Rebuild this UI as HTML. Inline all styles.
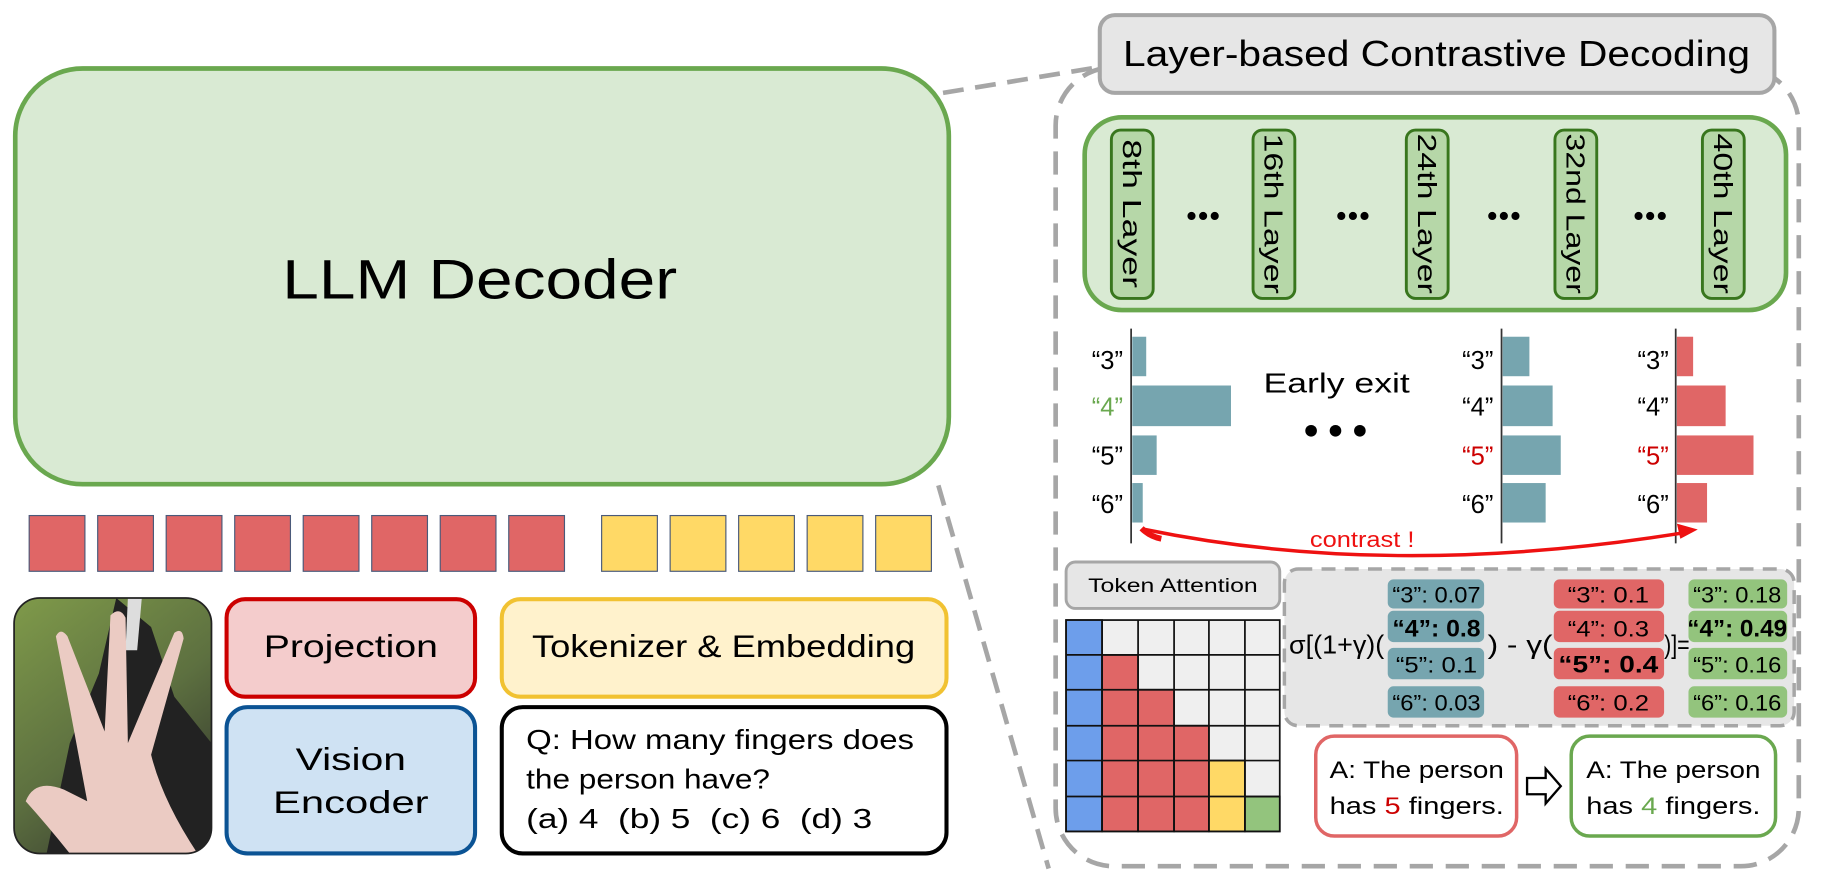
<!DOCTYPE html>
<html><head><meta charset="utf-8"><style>
html,body{margin:0;padding:0;background:#fff;width:1821px;height:879px;overflow:hidden}
svg text{font-family:"Liberation Sans",sans-serif}
</style></head><body>
<svg width="1821" height="879" viewBox="0 0 1568 757" xmlns="http://www.w3.org/2000/svg">
<defs>
<linearGradient id="ph" x1="0" y1="0" x2="0.6" y2="1">
<stop offset="0" stop-color="#7f9a4a"/><stop offset="0.6" stop-color="#5d7040"/><stop offset="1" stop-color="#3a4030"/>
</linearGradient>
<clipPath id="pc"><rect x="12" y="515" width="170" height="220" rx="22"/></clipPath>
</defs>
<rect x="13" y="59" width="804" height="358" rx="58" fill="#d9ead3" stroke="#6aa84f" stroke-width="4"/>
<text x="413" y="257" font-size="48" text-anchor="middle" textLength="340" lengthAdjust="spacingAndGlyphs">LLM Decoder</text>
<line x1="812" y1="80" x2="945" y2="58" stroke="#a6a6a6" stroke-width="4" stroke-dasharray="18,10"/>
<line x1="808" y1="418" x2="903" y2="748" stroke="#a6a6a6" stroke-width="4" stroke-dasharray="18,10"/>
<g fill="#e06666" stroke="#4a5a7a" stroke-width="1">
<rect x="25" y="444" width="48" height="48"/><rect x="84" y="444" width="48" height="48"/><rect x="143" y="444" width="48" height="48"/><rect x="202" y="444" width="48" height="48"/><rect x="261" y="444" width="48" height="48"/><rect x="320" y="444" width="48" height="48"/><rect x="379" y="444" width="48" height="48"/><rect x="438" y="444" width="48" height="48"/>
</g>
<g fill="#ffd966" stroke="#4a5a7a" stroke-width="1">
<rect x="518" y="444" width="48" height="48"/><rect x="577" y="444" width="48" height="48"/><rect x="636" y="444" width="48" height="48"/><rect x="695" y="444" width="48" height="48"/><rect x="754" y="444" width="48" height="48"/>
</g>
<g clip-path="url(#pc)">
<rect x="12" y="515" width="170" height="220" fill="url(#ph)"/>
<path d="M100 515 L130 540 L150 600 L182 640 L182 735 L40 735 L60 640 L85 580 Z" fill="#222"/>
<path d="M110 515 L122 515 L118 560 L108 560 Z" fill="#ddd"/>
<path d="M22 690 Q30 670 55 680 L75 690 L60 610 L48 548 Q52 540 58 548 L90 630 L95 530 Q103 522 108 532 L110 640 L150 545 Q157 540 158 550 L130 650 Q140 690 170 735 L60 735 Q40 710 22 690 Z" fill="#ebcbc3"/>
</g>
<rect x="12" y="515" width="170" height="220" rx="22" fill="none" stroke="#222" stroke-width="1.5"/>
<rect x="195" y="516" width="214" height="84" rx="16" fill="#f4cccc" stroke="#cc0000" stroke-width="3.5"/>
<text x="302" y="566" font-size="27" text-anchor="middle" textLength="150" lengthAdjust="spacingAndGlyphs">Projection</text>
<rect x="195" y="609" width="214" height="126" rx="18" fill="#cfe2f3" stroke="#0b5394" stroke-width="3.5"/>
<text x="302" y="663" font-size="27" text-anchor="middle" textLength="95" lengthAdjust="spacingAndGlyphs">Vision</text>
<text x="302" y="700" font-size="27" text-anchor="middle" textLength="134" lengthAdjust="spacingAndGlyphs">Encoder</text>
<rect x="432" y="516" width="383" height="84" rx="16" fill="#fff2cc" stroke="#f1c232" stroke-width="3.5"/>
<text x="623" y="566" font-size="27" text-anchor="middle" textLength="330" lengthAdjust="spacingAndGlyphs">Tokenizer &amp; Embedding</text>
<rect x="432" y="609" width="383" height="126" rx="18" fill="#fff" stroke="#000" stroke-width="3.5"/>
<text x="453" y="645" font-size="24" textLength="334" lengthAdjust="spacingAndGlyphs">Q: How many fingers does</text>
<text x="453" y="679" font-size="24" textLength="210" lengthAdjust="spacingAndGlyphs">the person have?</text>
<text x="453" y="713" font-size="24" textLength="298" lengthAdjust="spacingAndGlyphs">(a) 4 &#160;(b) 5 &#160;(c) 6 &#160;(d) 3</text>
<rect x="909" y="58" width="640" height="688" rx="50" fill="none" stroke="#a6a6a6" stroke-width="4" stroke-dasharray="20,11"/>
<rect x="947" y="13" width="581" height="67" rx="13" fill="#e6e6e6" stroke="#a6a6a6" stroke-width="3.5"/>
<text x="1237" y="57" font-size="31" text-anchor="middle" textLength="540" lengthAdjust="spacingAndGlyphs">Layer-based Contrastive Decoding</text>
<rect x="934" y="101" width="604" height="166" rx="32" fill="#d9ead3" stroke="#6aa84f" stroke-width="4"/>
<g fill="#b6d7a8" stroke="#38761d" stroke-width="2.5">
<rect x="957" y="112" width="36" height="145" rx="8"/><rect x="1079" y="112" width="36" height="145" rx="8"/><rect x="1211" y="112" width="36" height="145" rx="8"/><rect x="1339" y="112" width="36" height="145" rx="8"/><rect x="1466" y="112" width="36" height="145" rx="8"/>
</g>
<g font-size="22">
<text transform="translate(967,184) rotate(90)" text-anchor="middle" textLength="128" lengthAdjust="spacingAndGlyphs">8th Layer</text>
<text transform="translate(1089,184) rotate(90)" text-anchor="middle" textLength="138" lengthAdjust="spacingAndGlyphs">16th Layer</text>
<text transform="translate(1221,184) rotate(90)" text-anchor="middle" textLength="138" lengthAdjust="spacingAndGlyphs">24th Layer</text>
<text transform="translate(1349,184) rotate(90)" text-anchor="middle" textLength="138" lengthAdjust="spacingAndGlyphs">32nd Layer</text>
<text transform="translate(1476,184) rotate(90)" text-anchor="middle" textLength="138" lengthAdjust="spacingAndGlyphs">40th Layer</text>
</g>
<g fill="#000">
<circle cx="1026" cy="186" r="3.5"/><circle cx="1036" cy="186" r="3.5"/><circle cx="1046" cy="186" r="3.5"/>
<circle cx="1155" cy="186" r="3.5"/><circle cx="1165" cy="186" r="3.5"/><circle cx="1175" cy="186" r="3.5"/>
<circle cx="1285" cy="186" r="3.5"/><circle cx="1295" cy="186" r="3.5"/><circle cx="1305" cy="186" r="3.5"/>
<circle cx="1411" cy="186" r="3.5"/><circle cx="1421" cy="186" r="3.5"/><circle cx="1431" cy="186" r="3.5"/>
</g>
<g stroke="#333" stroke-width="1.5">
<line x1="974" y1="283" x2="974" y2="468"/><line x1="1293" y1="283" x2="1293" y2="468"/><line x1="1443" y1="283" x2="1443" y2="468"/>
</g>
<g fill="#76a5af">
<rect x="975" y="290" width="12" height="34"/><rect x="975" y="332" width="85" height="35"/><rect x="975" y="375" width="21" height="34"/><rect x="975" y="416" width="9" height="34"/>
<rect x="1294" y="290" width="23" height="34"/><rect x="1294" y="332" width="43" height="35"/><rect x="1294" y="375" width="50" height="34"/><rect x="1294" y="416" width="37" height="34"/>
</g>
<g fill="#e06666">
<rect x="1444" y="290" width="14" height="34"/><rect x="1444" y="332" width="42" height="35"/><rect x="1444" y="375" width="66" height="34"/><rect x="1444" y="416" width="26" height="34"/>
</g>
<g font-size="22" text-anchor="end">
<text x="967" y="318">“3”</text><text x="967" y="358" fill="#6aa84f">“4”</text><text x="967" y="400">“5”</text><text x="967" y="442">“6”</text>
<text x="1286" y="318">“3”</text><text x="1286" y="358">“4”</text><text x="1286" y="400" fill="#cc0000">“5”</text><text x="1286" y="442">“6”</text>
<text x="1437" y="318">“3”</text><text x="1437" y="358">“4”</text><text x="1437" y="400" fill="#cc0000">“5”</text><text x="1437" y="442">“6”</text>
</g>
<text x="1151" y="338" font-size="24" text-anchor="middle" textLength="126" lengthAdjust="spacingAndGlyphs">Early exit</text>
<g fill="#000"><circle cx="1129" cy="371" r="5"/><circle cx="1150" cy="371" r="5"/><circle cx="1171" cy="371" r="5"/></g>
<path d="M986 456 Q1200 500 1455 458" fill="none" stroke="#ee1111" stroke-width="3"/>
<path d="M1462 456 L1444 451 L1447 464 Z" fill="#ee1111"/>
<path d="M983 455 Q990 462 1000 464" fill="none" stroke="#ee1111" stroke-width="5"/>
<text x="1128" y="471" font-size="19" fill="#ee1111" textLength="90" lengthAdjust="spacingAndGlyphs">contrast !</text>
<rect x="918" y="484" width="184" height="40" rx="8" fill="#e6e6e6" stroke="#a6a6a6" stroke-width="2.5"/>
<text x="1010" y="510" font-size="17" text-anchor="middle" textLength="146" lengthAdjust="spacingAndGlyphs">Token Attention</text>
<g stroke="#111" stroke-width="1.5">
<rect x="918" y="534" width="184" height="182" fill="#efefef"/>
<rect x="918" y="534" width="31" height="182" fill="#6d9eeb"/>
<rect x="949" y="564" width="31" height="152" fill="#e06666"/>
<rect x="980" y="594" width="31" height="122" fill="#e06666"/>
<rect x="1011" y="625" width="30" height="91" fill="#e06666"/>
<rect x="1041" y="655" width="31" height="61" fill="#ffd966"/>
<rect x="1072" y="686" width="30" height="30" fill="#93c47d"/>
</g>
<g stroke="#111" stroke-width="1.5" fill="none">
<line x1="949" y1="534" x2="949" y2="716"/><line x1="980" y1="534" x2="980" y2="716"/><line x1="1011" y1="534" x2="1011" y2="716"/><line x1="1041" y1="534" x2="1041" y2="716"/><line x1="1072" y1="534" x2="1072" y2="716"/>
<line x1="918" y1="564" x2="1102" y2="564"/><line x1="918" y1="594" x2="1102" y2="594"/><line x1="918" y1="625" x2="1102" y2="625"/><line x1="918" y1="655" x2="1102" y2="655"/><line x1="918" y1="686" x2="1102" y2="686"/>
</g>
<rect x="1106" y="490" width="439" height="135" rx="12" fill="#e6e6e6" stroke="#a6a6a6" stroke-width="3" stroke-dasharray="12,8"/>
<g fill="#76a5af"><rect x="1195" y="499" width="83" height="25" rx="5"/><rect x="1195" y="526" width="83" height="27" rx="5"/><rect x="1195" y="558" width="83" height="27" rx="5"/><rect x="1195" y="591" width="83" height="27" rx="5"/></g>
<g fill="#e06666"><rect x="1338" y="499" width="95" height="25" rx="5"/><rect x="1338" y="526" width="95" height="27" rx="5"/><rect x="1338" y="558" width="95" height="27" rx="5"/><rect x="1338" y="591" width="95" height="27" rx="5"/></g>
<g fill="#93c47d"><rect x="1454" y="499" width="85" height="25" rx="5"/><rect x="1454" y="526" width="85" height="27" rx="5"/><rect x="1454" y="558" width="85" height="27" rx="5"/><rect x="1454" y="591" width="85" height="27" rx="5"/></g>
<g font-size="19" text-anchor="middle">
<text x="1237" y="519" textLength="76" lengthAdjust="spacingAndGlyphs">“3”: 0.07</text><text x="1237" y="548" font-weight="bold" font-size="21" textLength="76" lengthAdjust="spacingAndGlyphs">“4”: 0.8</text><text x="1237" y="579" textLength="70" lengthAdjust="spacingAndGlyphs">“5”: 0.1</text><text x="1237" y="612" textLength="76" lengthAdjust="spacingAndGlyphs">“6”: 0.03</text>
<text x="1385" y="519" textLength="70" lengthAdjust="spacingAndGlyphs">“3”: 0.1</text><text x="1385" y="548" textLength="70" lengthAdjust="spacingAndGlyphs">“4”: 0.3</text><text x="1385" y="579" font-weight="bold" font-size="21" textLength="86" lengthAdjust="spacingAndGlyphs">“5”: 0.4</text><text x="1385" y="612" textLength="70" lengthAdjust="spacingAndGlyphs">“6”: 0.2</text>
<text x="1496" y="519" textLength="76" lengthAdjust="spacingAndGlyphs">“3”: 0.18</text><text x="1496" y="548" font-weight="bold" font-size="21" textLength="86" lengthAdjust="spacingAndGlyphs">“4”: 0.49</text><text x="1496" y="579" textLength="76" lengthAdjust="spacingAndGlyphs">“5”: 0.16</text><text x="1496" y="612" textLength="76" lengthAdjust="spacingAndGlyphs">“6”: 0.16</text>
</g>
<g font-size="22">
<text x="1110" y="563" textLength="82" lengthAdjust="spacingAndGlyphs">σ[(1+γ)(</text>
<text x="1281" y="563" textLength="56" lengthAdjust="spacingAndGlyphs">) - γ(</text>
<text x="1433" y="563" textLength="22" lengthAdjust="spacingAndGlyphs">)]=</text>
</g>
<rect x="1133" y="634" width="173" height="86" rx="16" fill="#fff" stroke="#e06666" stroke-width="3"/>
<text x="1220" y="670" font-size="21" text-anchor="middle" textLength="150" lengthAdjust="spacingAndGlyphs">A: The person</text>
<text x="1220" y="701" font-size="21" text-anchor="middle" textLength="150" lengthAdjust="spacingAndGlyphs">has <tspan fill="#cc0000">5</tspan> fingers.</text>
<path d="M1315 670 L1331 670 L1331 662 L1344 677 L1331 692 L1331 684 L1315 684 Z" fill="#fff" stroke="#000" stroke-width="2"/>
<rect x="1353" y="634" width="176" height="86" rx="16" fill="#fff" stroke="#6aa84f" stroke-width="3"/>
<text x="1441" y="670" font-size="21" text-anchor="middle" textLength="150" lengthAdjust="spacingAndGlyphs">A: The person</text>
<text x="1441" y="701" font-size="21" text-anchor="middle" textLength="150" lengthAdjust="spacingAndGlyphs">has <tspan fill="#6aa84f">4</tspan> fingers.</text>
</svg>
</body></html>
